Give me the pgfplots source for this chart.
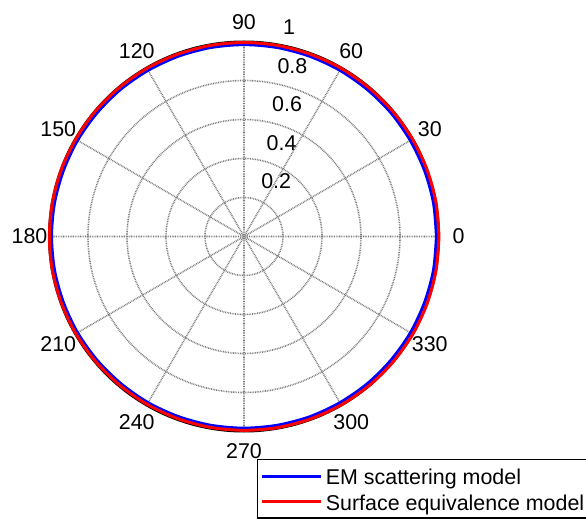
\documentclass[border=0pt]{standalone}
\usepackage{pgfplots}
\pgfplotsset{compat=1.18}
\usepgfplotslibrary{polar}
\usepackage{fontspec}
\setmainfont{Liberation Sans}
\newcommand\lf{\fontsize{21.5}{25}\selectfont}
\definecolor{gridgray}{RGB}{120,120,120}
\begin{document}
\begin{tikzpicture}[font=\lf]
\begin{polaraxis}[
  at={(244bp,286.5bp)}, anchor=center,
  scale only axis, width=390bp, height=390bp,
  ymin=0, ymax=1,
  xtick={0,30,60,90,120,150,180,210,240,270,300,330},
  ytick={0.2,0.4,0.6,0.8},
  xticklabels={}, yticklabels={},
  major tick length=0pt,
  grid=major,
  major grid style={gridgray, dash pattern=on 0.8bp off 0.9bp, line width=1.6bp},
  x axis line style={black, line width=2bp},
  y axis line style={draw=none},
  clip=false,
  legend style={at={(axis description cs:0.533,-0.0705)}, anchor=north west,
    draw=black, line width=1.5bp, font=\lf, fill=white,
    inner xsep=3bp, inner ysep=2bp, row sep=-3bp,
    nodes={inner xsep=3bp, inner ysep=2bp, text height=21bp, text depth=3.75bp}},
  legend cell align=left,
  legend image code/.code={\path (0bp,0bp) -- (59.25bp,0bp); \draw[#1] (5.25bp,0bp) -- (59.25bp,0bp);},
]
\addplot[blue, line width=3bp, smooth] coordinates {
(0,0.987) (10,0.987) (20,0.986) (30,0.985) (40,0.985) (50,0.984) (60,0.984) (70,0.984)
(80,0.984) (90,0.984) (100,0.984) (110,0.984) (120,0.984) (130,0.985) (140,0.985)
(150,0.986) (160,0.986) (170,0.987) (180,0.987) (190,0.987) (200,0.986) (210,0.986)
(220,0.985) (230,0.984) (240,0.984) (250,0.983) (260,0.983) (270,0.983) (280,0.983)
(290,0.984) (300,0.984) (310,0.985) (320,0.985) (330,0.986) (340,0.986) (350,0.987) (360,0.987)};
\addlegendentry{EM scattering model}
\addplot[red, line width=3bp, smooth] coordinates {
(0,1.000) (10,1.000) (20,0.999) (30,0.998) (40,0.997) (50,0.996) (60,0.996) (70,0.995)
(80,0.995) (90,0.995) (100,0.995) (110,0.995) (120,0.996) (130,0.996) (140,0.997)
(150,0.997) (160,0.998) (170,0.998) (180,0.998) (190,0.998) (200,0.997) (210,0.996)
(220,0.995) (230,0.994) (240,0.994) (250,0.994) (260,0.994) (270,0.994) (280,0.995)
(290,0.996) (300,0.997) (310,0.998) (320,0.999) (330,1.000) (340,1.000) (350,1.000) (360,1.000)};
\addlegendentry{Surface equivalence model}
\node at (axis cs:0,1.1) {0};
\node at (axis cs:30,1.1) {30};
\node at (axis cs:60,1.1) {60};
\node at (axis cs:90,1.1) {90};
\node at (axis cs:120,1.1) {120};
\node at (axis cs:150,1.1) {150};
\node at (axis cs:180,1.1) {180};
\node at (axis cs:210,1.1) {210};
\node at (axis cs:240,1.1) {240};
\node at (axis cs:270,1.1) {270};
\node at (axis cs:300,1.1) {300};
\node at (axis cs:330,1.1) {330};
\node[anchor=base west, xshift=11.4bp, yshift=7bp, inner sep=0pt] at (axis cs:82,0.21) {0.2};
\node[anchor=base west, xshift=11.4bp, yshift=7bp, inner sep=0pt] at (axis cs:82,0.41) {0.4};
\node[anchor=base west, xshift=11.4bp, yshift=7bp, inner sep=0pt] at (axis cs:82,0.61) {0.6};
\node[anchor=base west, xshift=11.4bp, yshift=7bp, inner sep=0pt] at (axis cs:82,0.81) {0.8};
\node[anchor=base west, xshift=11.4bp, yshift=7bp, inner sep=0pt] at (axis cs:82,1.01) {1};
\end{polaraxis}
\pgfresetboundingbox
\path (0bp,0bp) rectangle (586bp,523bp);
\end{tikzpicture}
\end{document}
